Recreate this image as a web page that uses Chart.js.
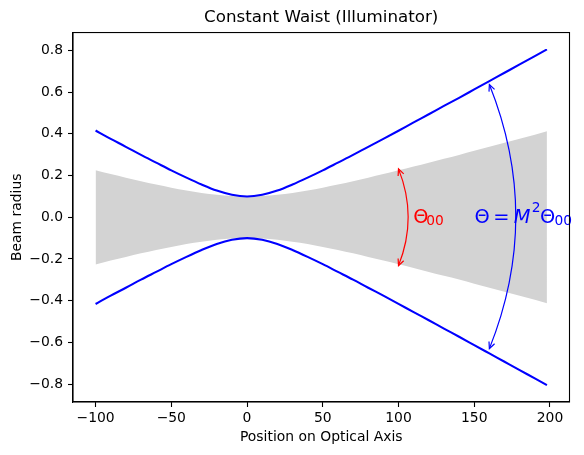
<!DOCTYPE html>
<html>
<head>
<meta charset="utf-8">
<script src="https://cdn.jsdelivr.net/npm/chart.js@4/dist/chart.umd.min.js"></script>
<style>
    html, body { margin: 0; padding: 0; background: #fff; }
    #wrap { width: 584px; height: 455px; }
</style>
</head>
<body>
<div id="wrap"><canvas id="beam" width="584" height="455"></canvas></div>
<script>
// ── Datos ──
const positions = [-100, -90, -80, -70, -60, -50, -40, -30, -20, -10, 0,
                   10, 20, 30, 40, 50, 60, 70, 80, 90, 100,
                   110, 120, 130, 140, 150, 160, 170, 180, 190, 198];

// radio del haz real (líneas azules, simétricas)
const beamRadius = [0.416, 0.376, 0.338, 0.299, 0.262, 0.225, 0.190, 0.157, 0.128, 0.108, 0.100,
                    0.108, 0.128, 0.157, 0.190, 0.225, 0.262, 0.299, 0.338, 0.376, 0.415,
                    0.455, 0.494, 0.534, 0.573, 0.613, 0.653, 0.693, 0.733, 0.773, 0.805];

// haz embebido (zona gris)
const embeddedRadius = [0.226, 0.207, 0.190, 0.173, 0.157, 0.142, 0.128, 0.117, 0.108, 0.102, 0.100,
                        0.102, 0.108, 0.117, 0.128, 0.142, 0.157, 0.173, 0.190, 0.207, 0.225,
                        0.243, 0.262, 0.281, 0.299, 0.319, 0.338, 0.357, 0.376, 0.396, 0.412];

const xTicks = [-100, -50, 0, 50, 100, 150, 200];
const yTicks = [-0.8, -0.6, -0.4, -0.2, 0.0, 0.2, 0.4, 0.6, 0.8];

// flechas de ángulo: [x, y] inicio y fin
const redArc  = [[100, 0.232], [100, -0.232]];
const blueArc = [[160, 0.637], [160, -0.630]];
const redLabelAt  = [110, 0];
const blueLabelAt = [150, 0];

const FONT = '"DejaVu Sans", sans-serif';
const minus = s => s.replace('-', '\u2212');

const xy = (vals, sign) => positions.map((p, i) => ({ x: p, y: sign * vals[i] }));

// ── Flechas curvas ──
function drawArc(ctx, sx, sy, pts, color) {
    const x1 = sx.getPixelForValue(pts[0][0]), y1 = sy.getPixelForValue(pts[0][1]);
    const x2 = sx.getPixelForValue(pts[1][0]), y2 = sy.getPixelForValue(pts[1][1]);
    const cx = (x1 + x2) / 2 + 0.2 * (y2 - y1);
    const cy = (y1 + y2) / 2 - 0.2 * (x2 - x1);

    ctx.save();
    ctx.strokeStyle = color;
    ctx.lineWidth = 1.2;
    ctx.beginPath();
    ctx.moveTo(x1, y1);
    ctx.quadraticCurveTo(cx, cy, x2, y2);
    ctx.stroke();

    [[x1, y1], [x2, y2]].forEach(([px, py]) => {
        let ux = px - cx, uy = py - cy;
        const len = Math.hypot(ux, uy);
        ux /= len; uy /= len;
        const L = 6.5, W = 3;
        ctx.beginPath();
        ctx.moveTo(px - L * ux + W * uy, py - L * uy - W * ux);
        ctx.lineTo(px, py);
        ctx.lineTo(px - L * ux - W * uy, py - L * uy + W * ux);
        ctx.stroke();
    });
    ctx.restore();
}

// partes: [texto, dx, dy, tamaño, cursiva]
function drawMath(ctx, x0, y0, color, parts) {
    ctx.save();
    ctx.fillStyle = color;
    ctx.textAlign = 'left';
    ctx.textBaseline = 'alphabetic';
    parts.forEach(([txt, dx, dy, size, italic]) => {
        ctx.font = `${italic ? 'italic ' : ''}${size}px ${FONT}`;
        ctx.fillText(txt, x0 + dx, y0 + dy);
    });
    ctx.restore();
}

const overlay = {
    id: 'overlay',
    afterDatasetsDraw(chart) {
        const { ctx, scales: { x, y } } = chart;
        drawArc(ctx, x, y, redArc, '#ff0000');
        drawArc(ctx, x, y, blueArc, '#0000ff');

        const rx = x.getPixelForValue(redLabelAt[0]), ry = y.getPixelForValue(redLabelAt[1]);
        drawMath(ctx, rx, ry, '#ff0000', [
            ['\u0398', -0.5, 5.8, 19.4, false],
            ['00', 12.7, 7.6, 13.8, false],
        ]);

        const bx = x.getPixelForValue(blueLabelAt[0]), by = y.getPixelForValue(blueLabelAt[1]);
        drawMath(ctx, bx, by, '#0000ff', [
            ['\u0398', 0.2, 5.8, 19.4, false],
            ['=', 19, 5.8, 19.4, false],
            ['M', 39.5, 5.8, 19.4, true],
            ['2', 57.5, -4.9, 13.8, false],
            ['\u0398', 65.8, 5.8, 19.4, false],
            ['00', 80.3, 7.6, 13.8, false],
        ]);
    },
    afterDraw(chart) {
        const { ctx, chartArea: a } = chart;
        ctx.save();
        ctx.strokeStyle = '#000';
        ctx.lineWidth = 1.1;
        ctx.strokeRect(a.left, a.top, a.right - a.left, a.bottom - a.top);
        ctx.restore();
    }
};

const tickFont = { family: FONT, size: 13.9 };

new Chart(document.getElementById('beam'), {
    type: 'line',
    data: {
        datasets: [
            {
                data: xy(embeddedRadius, 1),
                fill: '+1',
                backgroundColor: '#d3d3d3',
                borderColor: 'rgba(0,0,0,0)',
                borderWidth: 0,
                pointRadius: 0,
                cubicInterpolationMode: 'monotone',
                order: 3,
            },
            {
                data: xy(embeddedRadius, -1),
                fill: false,
                borderColor: 'rgba(0,0,0,0)',
                borderWidth: 0,
                pointRadius: 0,
                cubicInterpolationMode: 'monotone',
                order: 3,
            },
            {
                data: xy(beamRadius, 1),
                fill: false,
                borderColor: '#0000ff',
                borderWidth: 2.08,
                pointRadius: 0,
                cubicInterpolationMode: 'monotone',
                order: 1,
            },
            {
                data: xy(beamRadius, -1),
                fill: false,
                borderColor: '#0000ff',
                borderWidth: 2.08,
                pointRadius: 0,
                cubicInterpolationMode: 'monotone',
                order: 1,
            },
        ]
    },
    options: {
        responsive: false,
        animation: false,
        events: [],
        layout: { padding: { left: 0, right: 14.5, top: 0, bottom: 0 } },
        plugins: {
            legend: { display: false },
            tooltip: { enabled: false },
            title: {
                display: true,
                text: 'Constant Waist (Illuminator)',
                color: '#000',
                fullSize: false,
                font: { family: FONT, size: 16.7, weight: 'normal' },
                padding: { top: 8, bottom: 4.5 },
            },
        },
        scales: {
            x: {
                type: 'linear',
                min: -114.9,
                max: 212.9,
                afterBuildTicks: s => { s.ticks = xTicks.map(v => ({ value: v })); },
                afterFit: s => { s.height = 53; },
                ticks: {
                    color: '#000',
                    font: tickFont,
                    padding: 3,
                    autoSkip: false,
                    maxRotation: 0,
                    callback: v => minus(String(v)),
                },
                grid: { drawOnChartArea: false, drawTicks: true, tickLength: 5, tickColor: '#000', tickWidth: 1.1 },
                border: { display: true, color: '#000', width: 1.1 },
                title: {
                    display: true,
                    text: 'Position on Optical Axis',
                    color: '#000',
                    font: tickFont,
                    padding: { top: 0, bottom: 9.7 },
                },
            },
            y: {
                type: 'linear',
                min: -0.886,
                max: 0.886,
                afterBuildTicks: s => { s.ticks = yTicks.map(v => ({ value: v })); },
                afterFit: s => { s.width = 73; },
                ticks: {
                    color: '#000',
                    font: tickFont,
                    padding: 5,
                    autoSkip: false,
                    callback: v => minus(Math.abs(v) < 1e-9 ? '0.0' : v.toFixed(1)),
                },
                grid: { drawOnChartArea: false, drawTicks: true, tickLength: 5, tickColor: '#000', tickWidth: 1.1 },
                border: { display: true, color: '#000', width: 1.1 },
                title: {
                    display: true,
                    text: 'Beam radius',
                    color: '#000',
                    font: tickFont,
                    padding: { top: 8.7, bottom: 0 },
                },
            },
        }
    },
    plugins: [overlay]
});
</script>
</body>
</html>
